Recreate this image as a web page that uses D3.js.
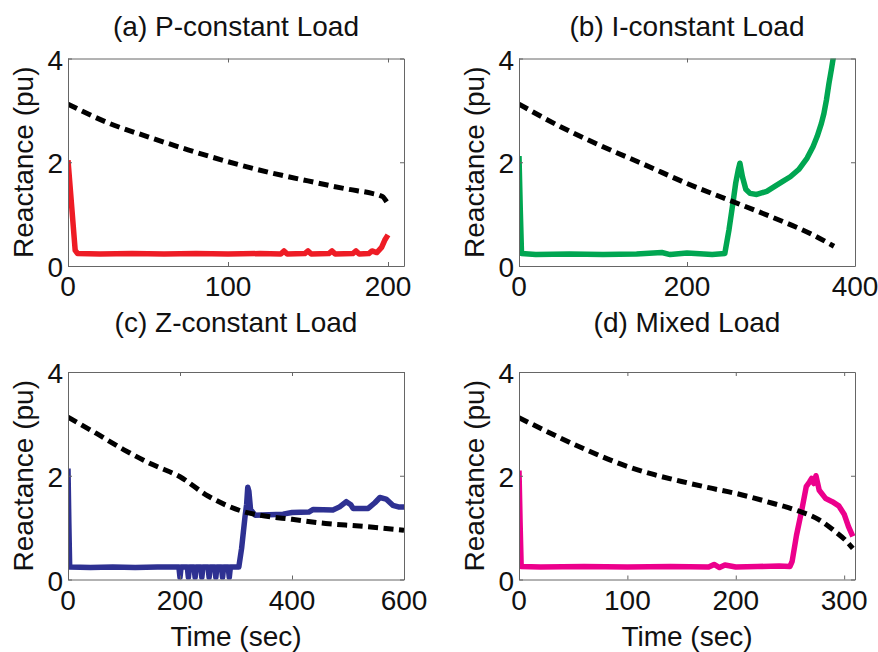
<!DOCTYPE html>
<html>
<head>
<meta charset="utf-8">
<script src="https://cdn.jsdelivr.net/npm/d3@7"></script>
<style>
    body { margin: 0; background: #fff; }
    svg text { font-family: "Liberation Sans", Arial, sans-serif; fill: #111; }
</style>
</head>
<body>
<svg id="chart" width="878" height="652"></svg>
<script>
// (a) P-constant load
const timeA_ref = [0, 25, 50, 75, 100, 125, 150, 175, 190, 195, 197, 199.5, 201];
const reactA_ref = [3.12, 2.76, 2.49, 2.24, 2.01, 1.81, 1.64, 1.48, 1.40, 1.36, 1.33, 1.22, 1.15];
const timeA = [0, 4.5, 6, 20, 40, 60, 80, 100, 120, 133, 135, 137, 148, 150, 152, 163, 165, 167, 178, 180, 182, 188, 190, 193, 196, 198, 200];
const reactA = [2.04, 0.3, 0.24, 0.23, 0.24, 0.23, 0.24, 0.23, 0.24, 0.23, 0.29, 0.23, 0.24, 0.29, 0.23, 0.24, 0.29, 0.23, 0.24, 0.29, 0.23, 0.24, 0.29, 0.26, 0.36, 0.5, 0.6];

// (b) I-constant load
const timeB_ref = [0, 50, 100, 150, 200, 250, 300, 350, 375];
const reactB_ref = [3.12, 2.68, 2.30, 1.95, 1.59, 1.27, 0.95, 0.60, 0.38];
const timeB = [0, 1.5, 3, 20, 60, 100, 140, 170, 180, 200, 230, 245, 250, 255, 258, 261, 263, 266, 270, 275, 283, 295, 303, 313, 323, 333, 343, 350, 355, 360, 363, 366, 369, 372, 375];
const reactB = [2.12, 1.1, 0.24, 0.22, 0.23, 0.22, 0.23, 0.26, 0.22, 0.25, 0.22, 0.24, 0.7, 1.25, 1.6, 1.85, 1.98, 1.72, 1.48, 1.40, 1.38, 1.44, 1.52, 1.62, 1.72, 1.86, 2.08, 2.3, 2.5, 2.75, 2.94, 3.2, 3.52, 3.8, 4.1];

// (c) Z-constant load
const timeC_ref = [0, 50, 100, 150, 200, 250, 283, 316, 343, 400, 460, 520, 600];
const reactC_ref = [3.13, 2.82, 2.50, 2.22, 1.98, 1.61, 1.43, 1.30, 1.24, 1.16, 1.08, 1.03, 0.95];
const timeC = [0, 1.5, 3, 40, 80, 120, 160, 198,
    200, 202, 213, 215, 217, 225, 227, 229, 237, 239, 241, 250, 252, 254, 262, 264, 266, 274, 276, 278, 286, 288, 290,
    305, 310, 316, 319, 321, 323, 326, 334, 384, 400, 430, 438, 473, 485, 497, 505, 509, 536, 548, 557, 568, 580, 590, 600];
const reactC = [2.14, 1.1, 0.24, 0.23, 0.24, 0.23, 0.24, 0.24,
    0.04, 0.24, 0.24, 0.04, 0.24, 0.24, 0.04, 0.24, 0.24, 0.04, 0.24, 0.24, 0.04, 0.24, 0.24, 0.04, 0.24, 0.24, 0.04, 0.24, 0.24, 0.04, 0.24,
    0.24, 0.6, 1.2, 1.45, 1.78, 1.7, 1.35, 1.24, 1.26, 1.29, 1.30, 1.35, 1.34, 1.40, 1.50, 1.44, 1.37, 1.37, 1.48, 1.58, 1.55, 1.43, 1.40, 1.40];

// (d) Mixed load
const timeD_ref = [0, 31, 62, 100, 125, 150, 175, 200, 234, 255, 277, 292, 300, 308];
const reactD_ref = [3.12, 2.80, 2.50, 2.18, 2.02, 1.89, 1.77, 1.66, 1.47, 1.34, 1.15, 0.92, 0.78, 0.60];
const timeD = [0, 1, 2, 20, 60, 100, 140, 175, 180, 185, 190, 200, 220, 240, 250, 252, 256, 261, 265, 268, 270, 272, 274, 277, 283, 289, 295, 300, 304, 308];
const reactD = [2.1, 1.1, 0.25, 0.24, 0.25, 0.24, 0.25, 0.24, 0.29, 0.23, 0.28, 0.24, 0.25, 0.26, 0.25, 0.35, 0.85, 1.35, 1.79, 1.88, 1.95, 1.85, 2.0, 1.72, 1.56, 1.50, 1.42, 1.26, 1.02, 0.83];

const yTicks = [0, 2, 4];

const panels = [
    { title: '(a) P-constant Load', xMax: 210, xTicks: [0, 100, 200], left: 68, top: 58.5, t: timeA, v: reactA, tRef: timeA_ref, vRef: reactA_ref, color: '#ee1c25', titleY: 36, xlabel: false },
    { title: '(b) I-constant Load', xMax: 400, xTicks: [0, 200, 400], left: 519, top: 58.5, t: timeB, v: reactB, tRef: timeB_ref, vRef: reactB_ref, color: '#00a651', titleY: 36, xlabel: false },
    { title: '(c) Z-constant Load', xMax: 600, xTicks: [0, 200, 400, 600], left: 68, top: 372, t: timeC, v: reactC, tRef: timeC_ref, vRef: reactC_ref, color: '#2e3192', titleY: 332, xlabel: true },
    { title: '(d) Mixed Load', xMax: 310, xTicks: [0, 100, 200, 300], left: 519, top: 372, t: timeD, v: reactD, tRef: timeD_ref, vRef: reactD_ref, color: '#ec008c', titleY: 332, xlabel: true }
];

const plotW = 336;
const plotH = 207.5;
const svg = d3.select('#chart');

panels.forEach((p, i) => drawPanel(p, i));

function drawPanel(p, i) {
    const g = svg.append('g').attr('transform', `translate(${p.left},${p.top})`);

    const x = d3.scaleLinear().domain([0, p.xMax]).range([0, plotW]);
    const y = d3.scaleLinear().domain([0, 4]).range([plotH, 0]);

    g.append('clipPath').attr('id', `clip${i}`)
        .append('rect').attr('width', plotW).attr('height', plotH);

    const line = d3.line()
        .x(d => x(d[0]))
        .y(d => y(d[1]));

    const plot = g.append('g').attr('clip-path', `url(#clip${i})`);

    plot.append('path')
        .datum(d3.zip(p.t, p.v))
        .attr('fill', 'none')
        .attr('stroke', p.color)
        .attr('stroke-width', 5.5)
        .attr('stroke-linejoin', 'round')
        .attr('d', line);

    plot.append('path')
        .datum(d3.zip(p.tRef, p.vRef))
        .attr('fill', 'none')
        .attr('stroke', '#000')
        .attr('stroke-width', 5)
        .attr('stroke-dasharray', '10,5.5')
        .attr('d', line.curve(d3.curveMonotoneX));

    // axes box with inward ticks on all sides
    const tickStroke = '#666';
    g.append('g').attr('transform', `translate(0,${plotH})`)
        .call(d3.axisBottom(x).tickValues(p.xTicks).tickSize(-4).tickSizeOuter(0).tickFormat(''))
        .call(a => a.select('.domain').attr('stroke', tickStroke))
        .call(a => a.selectAll('.tick line').attr('stroke', tickStroke));
    g.append('g')
        .call(d3.axisTop(x).tickValues(p.xTicks).tickSize(-4).tickSizeOuter(0).tickFormat(''))
        .call(a => a.select('.domain').attr('stroke', tickStroke))
        .call(a => a.selectAll('.tick line').attr('stroke', tickStroke));
    g.append('g')
        .call(d3.axisLeft(y).tickValues(yTicks).tickSize(-4).tickSizeOuter(0).tickFormat(''))
        .call(a => a.select('.domain').attr('stroke', tickStroke))
        .call(a => a.selectAll('.tick line').attr('stroke', tickStroke));
    g.append('g').attr('transform', `translate(${plotW},0)`)
        .call(d3.axisRight(y).tickValues(yTicks).tickSize(-4).tickSizeOuter(0).tickFormat(''))
        .call(a => a.select('.domain').attr('stroke', tickStroke))
        .call(a => a.selectAll('.tick line').attr('stroke', tickStroke));

    // tick labels
    g.selectAll('.xlab')
        .data(p.xTicks)
        .enter().append('text')
        .attr('x', d => x(d))
        .attr('y', plotH + 30)
        .attr('text-anchor', 'middle')
        .style('font-size', '28px')
        .text(d => d);

    g.selectAll('.ylab')
        .data(yTicks)
        .enter().append('text')
        .attr('x', -5)
        .attr('y', d => y(d) + 11)
        .attr('text-anchor', 'end')
        .style('font-size', '28px')
        .text(d => d);

    g.append('text')
        .attr('transform', `translate(-35,${plotH / 2}) rotate(-90)`)
        .attr('text-anchor', 'middle')
        .style('font-size', '28px')
        .text('Reactance (pu)');

    g.append('text')
        .attr('x', plotW / 2)
        .attr('y', p.titleY - p.top)
        .attr('text-anchor', 'middle')
        .style('font-size', '28px')
        .text(p.title);

    if (p.xlabel) {
        g.append('text')
            .attr('x', plotW / 2)
            .attr('y', 646 - p.top)
            .attr('text-anchor', 'middle')
            .style('font-size', '28px')
            .text('Time (sec)');
    }
}
</script>
</body>
</html>
